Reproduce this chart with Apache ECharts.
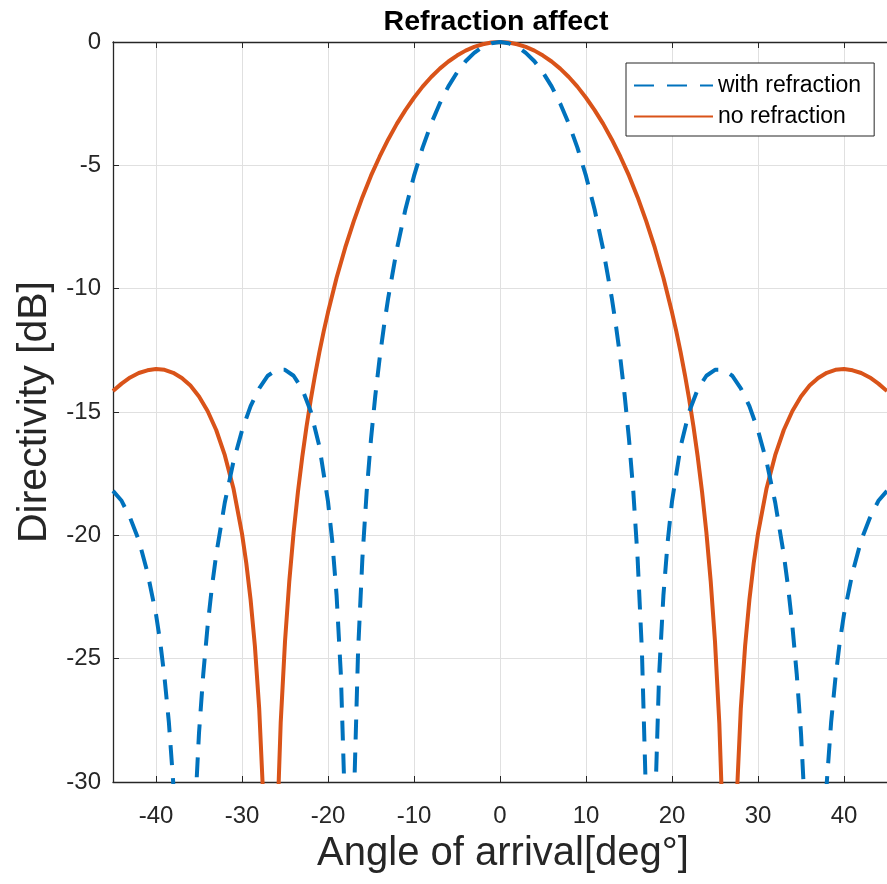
<!DOCTYPE html>
<html>
<head>
<meta charset="utf-8">
<script src="https://cdn.jsdelivr.net/npm/echarts@6/dist/echarts.min.js"></script>
<style>
html,body{margin:0;padding:0;background:#fff;}
#chart{width:887px;height:884px;}
</style>
</head>
<body>
<div id="chart"></div>
<script>
// Angle of arrival (deg) for the "with refraction" curve
const anglesWith = [-45,-44,-43,-42,-41,-40,-39.5,-39,-38.5,-38,-37.5,-37,-36.5,-36,-35.5,-35,-34.5,-34,-33.5,-33,-32,-31,-30,-29,-28,-27,-26,-25,-24,-23,-22,-21,-20,-19.5,-19,-18.5,-18,-17.5,-17,-16.5,-16,-15.5,-15,-14.5,-14,-13.5,-13,-12,-11,-10,-9,-8,-7,-6,-5,-4,-3,-2,-1,
  0,
  1,2,3,4,5,6,7,8,9,10,11,12,13,13.5,14,14.5,15,15.5,16,16.5,17,17.5,18,18.5,19,19.5,20,21,22,23,24,25,26,27,28,29,30,31,32,33,33.5,34,34.5,35,35.5,36,36.5,37,37.5,38,38.5,39,39.5,40,41,42,43,44,45];

// Directivity [dB], with refraction (dashed blue)
const withRefraction = [-18.2,-18.6,-19.3,-20.2,-21.5,-23.2,-24.35,-25.8,-27.59,-30.01,-33.59,-40.1,-53.9,-36.75,-31.45,-28.02,-25.61,-23.68,-22.1,-20.78,-18.67,-17.02,-15.75,-14.76,-14.04,-13.53,-13.29,-13.29,-13.53,-14.07,-14.98,-16.4,-18.63,-20.25,-22.44,-25.67,-31.41,-60,-30.92,-24.67,-20.93,-18.22,-16.1,-14.34,-12.84,-11.54,-10.38,-8.41,-6.79,-5.43,-4.28,-3.31,-2.49,-1.8,-1.24,-0.78,-0.44,-0.19,-0.05,
  0,
  -0.05,-0.19,-0.44,-0.78,-1.24,-1.8,-2.49,-3.31,-4.28,-5.43,-6.79,-8.41,-10.38,-11.54,-12.84,-14.34,-16.1,-18.22,-20.93,-24.67,-30.92,-60,-31.41,-25.67,-22.44,-20.25,-18.63,-16.4,-14.98,-14.07,-13.53,-13.29,-13.29,-13.53,-14.04,-14.76,-15.75,-17.02,-18.67,-20.78,-22.1,-23.68,-25.61,-28.02,-31.45,-36.75,-53.9,-40.1,-33.59,-30.01,-27.59,-25.8,-24.35,-23.2,-21.5,-20.2,-19.3,-18.6,-18.2];

// Angle of arrival (deg) for the "no refraction" curve
const anglesNo = [-45,-44,-43,-42,-41,-40,-39,-38,-37,-36,-35,-34,-33,-32,-31,-30,-29.5,-29,-28.5,-28,-27.5,-27,-26.5,-26,-25.5,-25,-24.5,-24,-23.5,-23,-22.5,-22,-21.5,-21,-20.5,-20,-19,-18,-17,-16,-15,-14,-13,-12,-11,-10,-9,-8,-7,-6,-5,-4,-3,-2,-1,
  0,
  1,2,3,4,5,6,7,8,9,10,11,12,13,14,15,16,17,18,19,20,20.5,21,21.5,22,22.5,23,23.5,24,24.5,25,25.5,26,26.5,27,27.5,28,28.5,29,29.5,30,31,32,33,34,35,36,37,38,39,40,41,42,43,44,45];

// Directivity [dB], no refraction (solid orange)
const noRefraction = [-14.15,-13.85,-13.6,-13.42,-13.31,-13.26,-13.29,-13.41,-13.62,-13.93,-14.37,-14.96,-15.73,-16.75,-18.09,-19.93,-21.13,-22.61,-24.49,-27.03,-30.86,-38.35,-45.77,-32.73,-27.6,-24.31,-21.86,-19.89,-18.25,-16.84,-15.6,-14.49,-13.49,-12.57,-11.73,-10.96,-9.56,-8.34,-7.26,-6.29,-5.42,-4.65,-3.95,-3.32,-2.76,-2.26,-1.81,-1.42,-1.08,-0.79,-0.55,-0.35,-0.2,-0.09,-0.02,
  0,
  -0.02,-0.09,-0.2,-0.35,-0.55,-0.79,-1.08,-1.42,-1.81,-2.26,-2.76,-3.32,-3.95,-4.65,-5.42,-6.29,-7.26,-8.34,-9.56,-10.96,-11.73,-12.57,-13.49,-14.49,-15.6,-16.84,-18.25,-19.89,-21.86,-24.31,-27.6,-32.73,-45.77,-38.35,-30.86,-27.03,-24.49,-22.61,-21.13,-19.93,-18.09,-16.75,-15.73,-14.96,-14.37,-13.93,-13.62,-13.41,-13.29,-13.26,-13.31,-13.42,-13.6,-13.85,-14.15];

const xTicks = [-40,-30,-20,-10,0,10,20,30,40];
const seriesNames = ['with refraction','no refraction'];
const titleText = 'Refraction affect';
const xName = 'Angle of arrival[deg°]';
const yName = 'Directivity [dB]';

const FONT = '"Liberation Sans", Arial, Helvetica, sans-serif';
const AX = '#262626';
const GRIDC = '#e0e0e0';

const chart = echarts.init(document.getElementById('chart'), null, {renderer:'canvas'});
chart.setOption({
  animation:false,
  backgroundColor:'#ffffff',
  textStyle:{fontFamily:FONT},
  title:{
    text:titleText, left:491, top:3, textAlign:'center',
    textStyle:{fontFamily:FONT, fontSize:28.5, fontWeight:'bold', color:'#000'}
  },
  legend:{
    orient:'vertical', left:626, top:63,
    padding:[11,13,8,7], itemGap:8, itemWidth:79, itemHeight:22,
    backgroundColor:'#fff', borderColor:AX, borderWidth:1,
    itemStyle:{opacity:0},
    textStyle:{fontFamily:FONT, fontSize:23, color:'#000'},
    data:seriesNames
  },
  grid:{left:113, top:42, width:783, height:740, containLabel:false},
  xAxis:[{
    type:'value', min:-45, max:45, splitNumber:9, position:'bottom',
    name:xName, nameLocation:'middle', nameGap:52,
    nameTextStyle:{fontFamily:FONT, fontSize:40, color:AX, padding:[0,0,0,6]},
    axisLine:{show:true, onZero:false, lineStyle:{color:AX, width:1.3}},
    axisTick:{show:true, inside:true, length:6, customValues:xTicks, lineStyle:{color:AX}},
    axisLabel:{show:true, customValues:xTicks, margin:22, fontFamily:FONT, fontSize:24, color:AX},
    splitLine:{show:true, lineStyle:{color:GRIDC, width:1}}
  },{
    type:'value', min:-45, max:45, splitNumber:9, position:'top',
    axisLine:{show:true, onZero:false, lineStyle:{color:AX, width:1.3}},
    axisTick:{show:true, inside:true, length:6, customValues:xTicks, lineStyle:{color:AX}},
    axisLabel:{show:false},
    splitLine:{show:false}
  }],
  yAxis:{
    type:'value', min:-30, max:0, interval:5,
    name:yName, nameLocation:'middle', nameGap:58,
    nameTextStyle:{fontFamily:FONT, fontSize:41, color:AX},
    axisLine:{show:true, onZero:false, lineStyle:{color:AX, width:1.3}},
    axisTick:{show:true, inside:true, length:6, lineStyle:{color:AX}},
    axisLabel:{margin:12, fontFamily:FONT, fontSize:24, color:AX},
    splitLine:{show:true, lineStyle:{color:GRIDC, width:1}}
  },
  series:[{
    name:seriesNames[0], type:'line', xAxisIndex:0,
    data:anglesWith.map((a,i)=>[a, withRefraction[i]]),
    showSymbol:false, symbol:'none', clip:true, z:3,
    lineStyle:{color:'#0072BD', width:4, type:[20,13]},
    itemStyle:{color:'#0072BD'}
  },{
    name:seriesNames[1], type:'line', xAxisIndex:0,
    data:anglesNo.map((a,i)=>[a, noRefraction[i]]),
    showSymbol:false, symbol:'none', clip:true, z:2,
    lineStyle:{color:'#D95319', width:4},
    itemStyle:{color:'#D95319'}
  }]
});
</script>
</body>
</html>
